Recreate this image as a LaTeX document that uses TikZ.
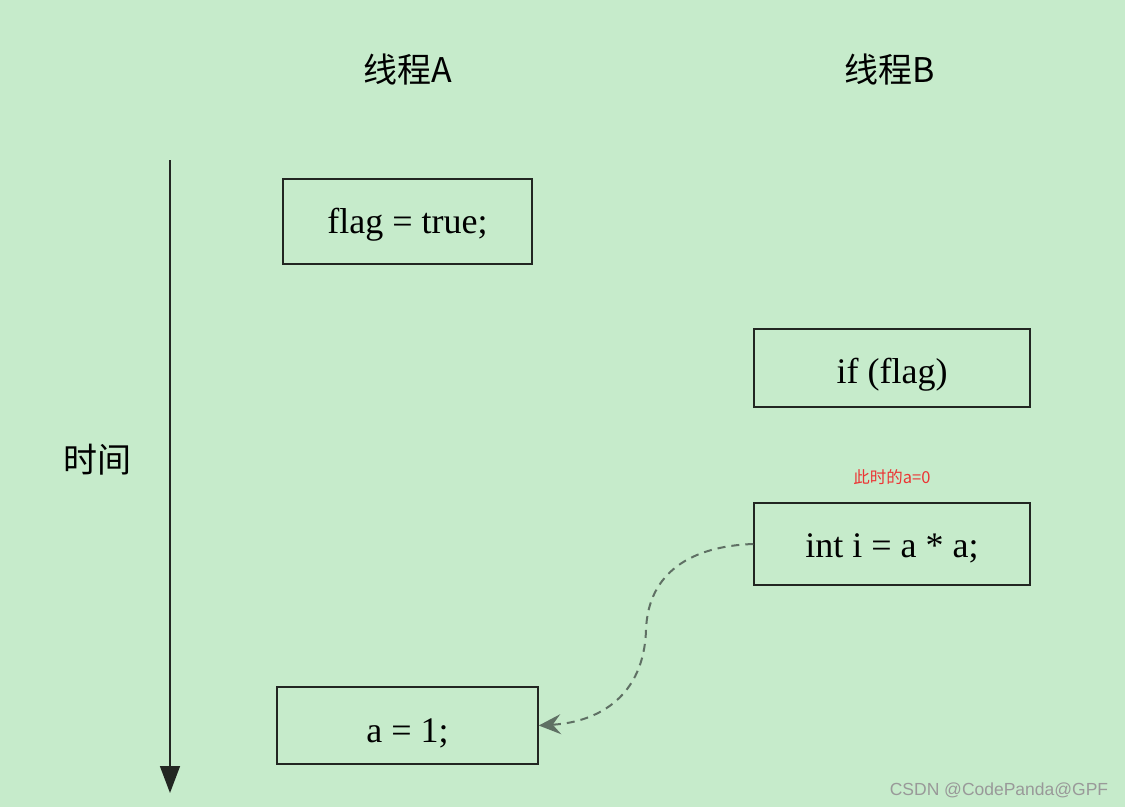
\documentclass[tikz,border=0pt]{standalone}
\usepackage{fontspec}
\setmainfont{Liberation Serif}
\newfontfamily\cjk{Noto Sans CJK SC}
\newfontfamily\wmfont{Liberation Sans}
\usetikzlibrary{arrows.meta,positioning}

\definecolor{bggreen}{RGB}{198,235,203}
\definecolor{linkgray}{RGB}{95,112,100}
\definecolor{notered}{RGB}{236,52,52}
\definecolor{boxline}{RGB}{34,38,34}

% lower a statement inside its box without moving the box
\newcommand{\lowered}[2]{\raisebox{-#1}[\height][\depth]{#2}}

\begin{document}
\begin{tikzpicture}[x=1pt,y=-1pt,
  stepbox/.style={draw=boxline,line width=1.5pt,font=\fontsize{36}{40}\selectfont,inner sep=0pt},
  title/.style={font=\cjk\fontsize{34}{40}\selectfont},
  node distance=10pt
]
  \fill[bggreen] (0,0) rectangle (1125,807);
  \useasboundingbox (0,0) rectangle (1125,807);

  % thread titles
  \node[title] (ta) at (408,70) {线程A};
  \node[title] (tb) at (890,70) {线程B};

  % time axis
  \coordinate (tstart) at (170,160);
  \coordinate (tend) at (170,793);
  \draw[boxline,line width=1.5pt,-{Triangle[width=20pt,length=27pt]}] (tstart) -- (tend);
  \node[title] (time) at (97,460) {时间};

  % statements
  \node[stepbox,minimum width=249pt,minimum height=85pt] (setflag) at (407.5,221.5) {\lowered{3pt}{flag = true;}};
  \node[stepbox,minimum width=276pt,minimum height=78pt] (check) at (892,368) {\lowered{7pt}{if (flag)}};
  \node[stepbox,minimum width=276pt,minimum height=82pt] (use) at (892,544) {\lowered{4pt}{int i = a * a;}};
  \node[stepbox,minimum width=261pt,minimum height=77pt] (seta) at (407.5,725.5) {\lowered{8pt}{a = 1;}};

  \node[text=notered,font=\cjk\fontsize{16.5}{18}\selectfont,above=14pt of use] (note) {此时的a=0};

  % reordering
  \coordinate (bend) at (646,630);
  \draw[linkgray,line width=2pt,dash pattern=on 8pt off 6pt,
    -{Stealth[length=22pt,width=20pt,inset=8pt]}]
    (use.west) .. controls (692,546) and (648,572) .. (bend)
    .. controls (644,695) and (600,722) .. (seta.east);

  \node[text=gray!80,font=\wmfont\fontsize{17.5}{20}\selectfont] (mark) at (999,790) {CSDN @CodePanda@GPF};
\end{tikzpicture}
\end{document}
